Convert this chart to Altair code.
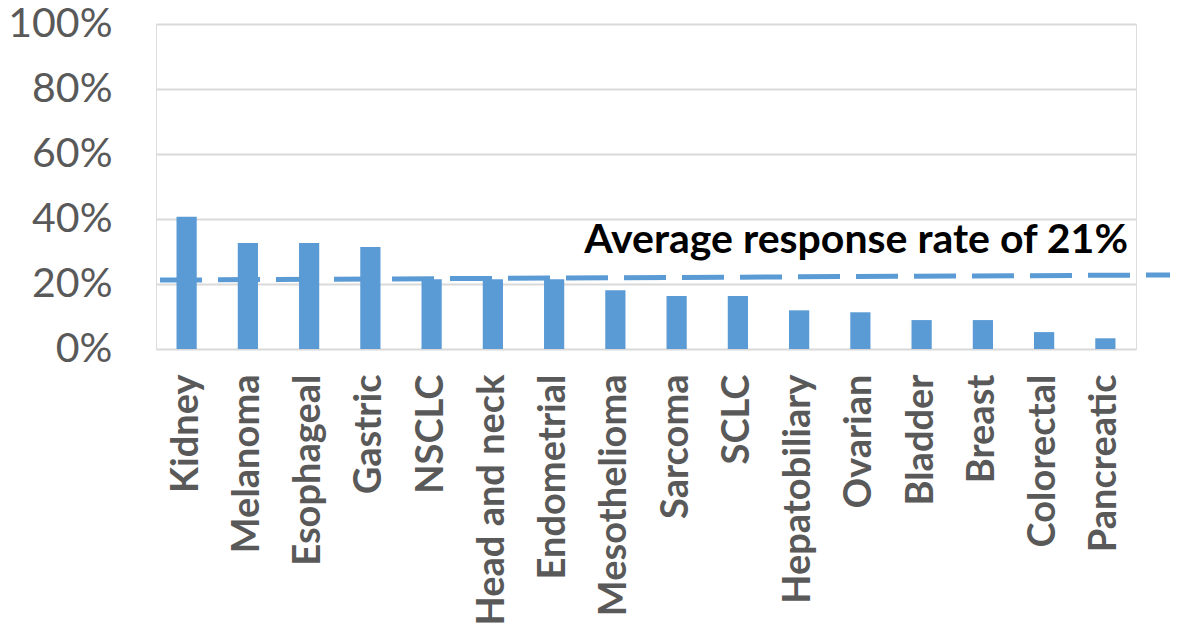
import altair as alt
import pandas as pd

categories = ["Kidney", "Melanoma", "Esophageal", "Gastric", "NSCLC", "Head and neck",
              "Endometrial", "Mesothelioma", "Sarcoma", "SCLC", "Hepatobiliary", "Ovarian",
              "Bladder", "Breast", "Colorectal", "Pancreatic"]
response = [40.7, 32.6, 32.6, 31.4, 21.5, 21.5, 21.5, 18.1, 16.3, 16.3, 11.9, 11.3,
            8.9, 8.9, 5.2, 3.3]
avg_line_start = 21.2
avg_line_end = 22.8
avg_label = "Average response rate of 21%"
avg_label_y = 29.4
y_ticks = [0, 20, 40, 60, 80, 100]

df = pd.DataFrame({"cat": categories, "val": response})

W = 980
H = 325
BLUE = "#5B9BD5"
FONT = "Lato"

x_scale = alt.Scale(domain=categories, paddingInner=0.67, paddingOuter=0.335)
y_scale = alt.Scale(domain=[0, 100])

bars = alt.Chart(df).mark_bar(color=BLUE).encode(
    x=alt.X("cat:N", scale=x_scale, sort=categories, title=None,
            axis=alt.Axis(labelAngle=-90, labelAlign="right", labelBaseline="middle",
                          labelFont=FONT, labelFontSize=38, labelFontWeight="bold",
                          labelColor="#595959", labelPadding=25, ticks=False,
                          domain=False, grid=False, labelLimit=400)),
    y=alt.Y("val:Q", scale=y_scale, title=None,
            axis=alt.Axis(values=y_ticks, labelExpr="datum.value + '%'",
                          labelFont=FONT, labelFontSize=41, labelColor="#595959",
                          labelPadding=44, ticks=False, domain=False,
                          grid=True, gridColor="#D9D9D9", gridWidth=2)),
)

line_df = pd.DataFrame({"y1": [avg_line_start], "y2": [avg_line_end]})
avg_line = alt.Chart(line_df).mark_rule(
    color=BLUE, strokeWidth=5, strokeDash=[42, 16]
).encode(
    x=alt.value(4), x2=alt.value(W + 40),
    y=alt.Y("y1:Q", scale=y_scale), y2="y2:Q",
)

text_df = pd.DataFrame({"t": [avg_label], "y": [avg_label_y]})
avg_text = alt.Chart(text_df).mark_text(
    font=FONT, fontSize=41, fontWeight="bold", color="#000000",
    align="right", baseline="alphabetic"
).encode(
    x=alt.value(972), y=alt.Y("y:Q", scale=y_scale), text="t:N",
)

chart = alt.layer(bars, avg_line, avg_text).properties(
    width=W, height=H,
    autosize=alt.AutoSizeParams(type="none"),
    padding={"left": 148, "top": 16, "right": 34, "bottom": 284},
).configure_view(stroke=None).configure(background="white")

chart.save("out.html", embed_options={"renderer": "svg", "actions": False})
